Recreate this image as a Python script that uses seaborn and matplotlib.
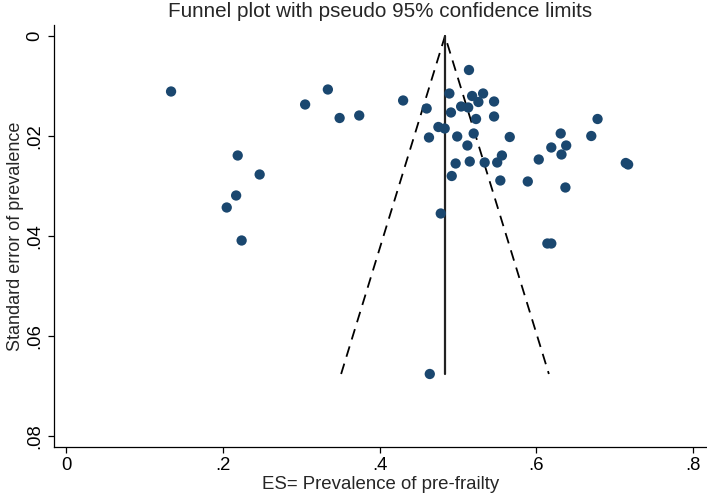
import numpy as np
import pandas as pd
import matplotlib
matplotlib.use("Agg")
import matplotlib.pyplot as plt
import seaborn as sns

# Study estimates
es = [0.134, 0.334, 0.305, 0.349, 0.374, 0.219, 0.247, 0.217, 0.205, 0.224,
      0.514, 0.430, 0.489, 0.518, 0.532, 0.526, 0.546, 0.460, 0.504, 0.513,
      0.491, 0.546, 0.523, 0.678, 0.475, 0.483, 0.463, 0.499, 0.520, 0.566,
      0.631, 0.670, 0.512, 0.619, 0.638, 0.632, 0.556, 0.603, 0.497, 0.515,
      0.534, 0.550, 0.714, 0.717, 0.492, 0.554, 0.589, 0.637, 0.478, 0.614,
      0.619, 0.464]
se = [0.0111, 0.0107, 0.0137, 0.0164, 0.0159, 0.0239, 0.0277, 0.0319, 0.0343, 0.0409,
      0.0068, 0.0129, 0.0115, 0.0120, 0.0115, 0.0132, 0.0131, 0.0145, 0.0141, 0.0143,
      0.0153, 0.0161, 0.0166, 0.0166, 0.0182, 0.0185, 0.0203, 0.0201, 0.0195, 0.0202,
      0.0195, 0.0200, 0.0219, 0.0223, 0.0219, 0.0237, 0.0239, 0.0247, 0.0255, 0.0251,
      0.0253, 0.0253, 0.0254, 0.0257, 0.0280, 0.0289, 0.0291, 0.0303, 0.0355, 0.0415,
      0.0415, 0.0676]
pooled = 0.4834

x_ticks = [0, 0.2, 0.4, 0.6, 0.8]
x_labels = ["0", ".2", ".4", ".6", ".8"]
y_ticks = [0, 0.02, 0.04, 0.06, 0.08]
y_labels = ["0", ".02", ".04", ".06", ".08"]

df = pd.DataFrame({"es": es, "se": se})

sns.set_style("ticks")
plt.rcParams["font.family"] = ["Liberation Sans", "DejaVu Sans"]

fig = plt.figure(figsize=(7.07, 4.96), dpi=100)
ax = fig.add_axes([0.0764, 0.0988, 0.9236, 0.8508])

# pseudo 95% confidence limits
se_max = max(se)
ax.plot([pooled - 1.96 * se_max, pooled, pooled + 1.96 * se_max], [se_max, 0, se_max],
        color="black", lw=1.3, dashes=(6, 4), zorder=1)
ax.plot([pooled, pooled], [0, se_max], color="#222222", lw=1.6, zorder=1)

sns.scatterplot(data=df, x="es", y="se", ax=ax, color="#1a476f", s=55,
                edgecolor="none", zorder=2)

ax.set_xlim(-0.0153, 0.8176)
ax.set_ylim(0.0822, -0.0022)
ax.set_xticks(x_ticks)
ax.set_xticklabels(x_labels)
ax.set_yticks(y_ticks)
ax.set_yticklabels(y_labels, rotation=90, va="center")
ax.tick_params(axis="both", length=4.5, width=0.9, labelsize=13.3, colors="black", pad=3)
sns.despine(ax=ax, top=True, right=True)
for sp in ["left", "bottom"]:
    ax.spines[sp].set_linewidth(0.9)
    ax.spines[sp].set_color("black")

ax.set_xlabel("ES= Prevalence of pre-frailty", fontsize=13.4, labelpad=1)
ax.set_ylabel("Standard error of prevalence", fontsize=13, labelpad=2)
ax.set_title("Funnel plot with pseudo 95% confidence limits", fontsize=14.9, pad=6)

fig.savefig("out.png", dpi=100)
